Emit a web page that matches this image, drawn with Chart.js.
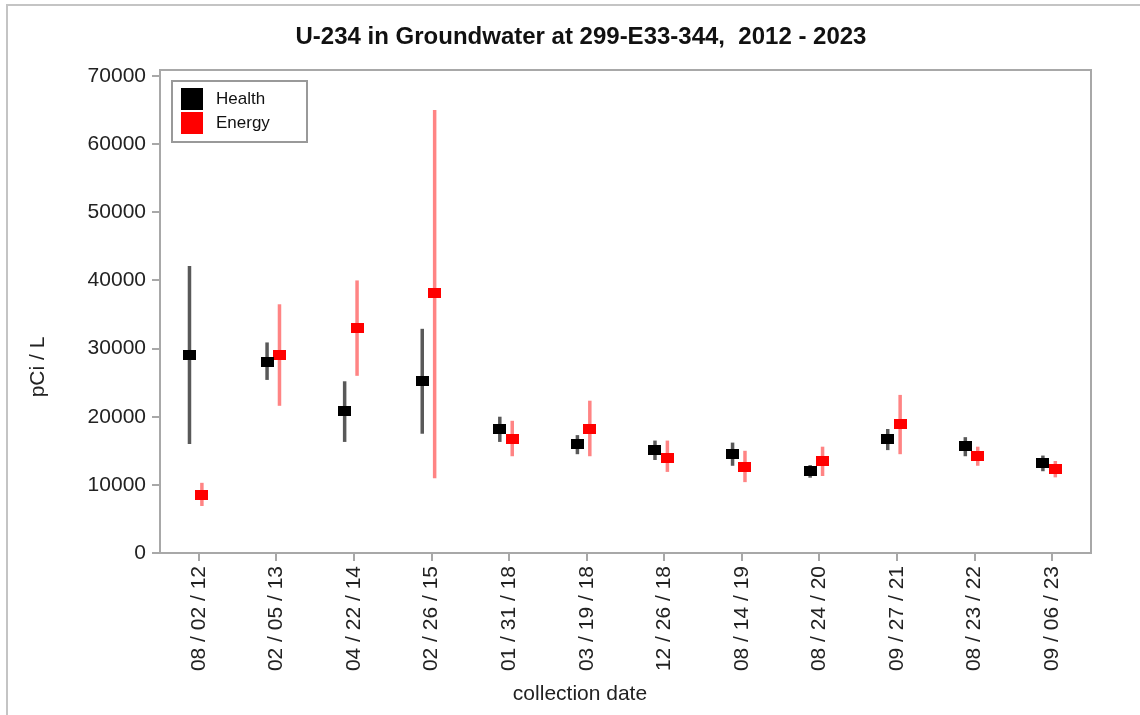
<!DOCTYPE html>
<html>
<head>
<meta charset="utf-8">
<script src="https://cdn.jsdelivr.net/npm/chart.js@4"></script>
<style>
  body { margin: 0; background: #fff; }
</style>
</head>
<body>
<canvas id="chart" width="1140" height="715"></canvas>
<script>
// collection dates (x categories)
const dates = ['08 / 02 / 12', '02 / 05 / 13', '04 / 22 / 14', '02 / 26 / 15', '01 / 31 / 18', '03 / 19 / 18',
    '12 / 26 / 18', '08 / 14 / 19', '08 / 24 / 20', '09 / 27 / 21', '08 / 23 / 22', '09 / 06 / 23'];

// Health lab results, pCi/L, with error bar ends
const healthVal = [29000, 28100, 20800, 25200, 18150, 15950, 15100, 14600, 12000, 16700, 15700, 13200];
const healthLo = [16000, 25400, 16300, 17500, 16300, 14500, 13650, 12800, 11050, 15100, 14200, 12000];
const healthHi = [42100, 30900, 25200, 32900, 20000, 17300, 16500, 16200, 12900, 18200, 17000, 14300];

// Energy lab results
const energyVal = [8470, 29060, 33000, 38100, 16700, 18200, 14000, 12600, 13500, 19000, 14300, 12300];
const energyLo = [6900, 21600, 26000, 10960, 14200, 14200, 11900, 10400, 11300, 14500, 12800, 11100];
const energyHi = [10300, 36500, 40000, 65000, 19400, 22350, 16500, 15000, 15600, 23200, 15600, 13500];

const yTicks = [0, 10000, 20000, 30000, 40000, 50000, 60000, 70000];

const FONT = "'Liberation Sans', Arial, sans-serif";

// small filled rectangle used as the point marker
function rectMarker(color) {
    const c = document.createElement('canvas');
    c.width = 13;
    c.height = 10;
    const g = c.getContext('2d');
    g.fillStyle = color;
    g.fillRect(0, 0, 13, 10);
    return c;
}

const series = [
    { label: 'Health', color: '#000000', barColor: 'rgba(60, 60, 60, 0.85)', shift: -0.12, val: healthVal, lo: healthLo, hi: healthHi },
    { label: 'Energy', color: '#ff0000', barColor: 'rgba(255, 110, 110, 0.85)', shift: 0.04, val: energyVal, lo: energyLo, hi: energyHi }
];

// vertical error bars, drawn under the markers
const errorBars = {
    id: 'errorBars',
    beforeDatasetsDraw(chart) {
        const ctx = chart.ctx;
        const xs = chart.scales.x, ys = chart.scales.y;
        ctx.save();
        series.forEach(s => {
            ctx.strokeStyle = s.barColor;
            ctx.lineWidth = 3.5;
            s.val.forEach((v, i) => {
                const px = xs.getPixelForValue(i + s.shift);
                ctx.beginPath();
                ctx.moveTo(px, ys.getPixelForValue(s.lo[i]));
                ctx.lineTo(px, ys.getPixelForValue(s.hi[i]));
                ctx.stroke();
            });
        });
        ctx.restore();
    }
};

// plot frame, titles, legend box and the outer picture edge
const decorations = {
    id: 'decorations',
    afterDraw(chart) {
        const ctx = chart.ctx;
        const a = chart.chartArea;
        ctx.save();
        ctx.strokeStyle = '#a8a8a8';
        ctx.lineWidth = 2;
        ctx.strokeRect(a.left, a.top, a.right - a.left, a.bottom - a.top);

        // outer edge
        ctx.strokeStyle = '#c4c4c4';
        ctx.beginPath();
        ctx.moveTo(7, 715);
        ctx.lineTo(7, 5);
        ctx.lineTo(1140, 5);
        ctx.stroke();

        // titles (not centred on the plot in the original)
        ctx.textAlign = 'center';
        ctx.textBaseline = 'middle';
        ctx.fillStyle = '#111';
        ctx.font = 'bold 24px ' + FONT;
        ctx.fillText('U-234 in Groundwater at 299-E33-344,  2012 - 2023', 581, 37);
        ctx.fillStyle = '#222';
        ctx.font = '21px ' + FONT;
        ctx.fillText('collection date', 580, 694);
        ctx.save();
        ctx.translate(38, 367);
        ctx.rotate(-Math.PI / 2);
        ctx.fillText('pCi / L', 0, 0);
        ctx.restore();

        // legend
        const lx = 172, ly = 81;
        ctx.textAlign = 'left';
        ctx.fillStyle = '#fff';
        ctx.fillRect(lx, ly, 135, 61);
        ctx.strokeStyle = '#999';
        ctx.strokeRect(lx, ly, 135, 61);
        ctx.font = '17px ' + FONT;
        series.forEach((s, i) => {
            ctx.fillStyle = s.color;
            ctx.fillRect(181, 88 + i * 24, 22, 22);
            ctx.fillStyle = '#111';
            ctx.fillText(s.label, 216, 99 + i * 24);
        });
        ctx.restore();
    }
};

const config = {
    type: 'scatter',
    data: {
        datasets: series.map(s => ({
            label: s.label,
            data: s.val.map((v, i) => ({ x: i + s.shift, y: v })),
            pointStyle: rectMarker(s.color),
            pointRadius: 6,
            pointHoverRadius: 6
        }))
    },
    options: {
        responsive: false,
        animation: false,
        layout: { padding: { left: 0, right: 49, top: 70, bottom: 0 } },
        plugins: {
            legend: { display: false },
            tooltip: { enabled: false },
            title: { display: false }
        },
        scales: {
            x: {
                type: 'linear',
                min: -0.5,
                max: 11.5,
                afterBuildTicks: scale => {
                    scale.ticks = dates.map((d, i) => ({ value: i }));
                },
                afterFit: scale => { scale.height = 162; },
                grid: { drawOnChartArea: false, drawTicks: true, tickLength: 8, color: '#a8a8a8', lineWidth: 2 },
                border: { display: true, color: '#a8a8a8', width: 2 },
                ticks: {
                    minRotation: 90,
                    maxRotation: 90,
                    padding: 5,
                    color: '#222',
                    font: { family: FONT, size: 21 },
                    callback: v => dates[v]
                }
            },
            y: {
                min: 0,
                max: 70880,
                afterBuildTicks: scale => {
                    scale.ticks = yTicks.map(v => ({ value: v }));
                },
                afterFit: scale => { scale.width = 160; },
                grid: { drawOnChartArea: false, drawTicks: true, tickLength: 8, color: '#a8a8a8', lineWidth: 2 },
                border: { display: true, color: '#a8a8a8', width: 2 },
                ticks: {
                    padding: 6,
                    color: '#222',
                    font: { family: FONT, size: 21 },
                    callback: v => String(v)
                }
            }
        }
    },
    plugins: [errorBars, decorations]
};

new Chart(document.getElementById('chart').getContext('2d'), config);
</script>
</body>
</html>
